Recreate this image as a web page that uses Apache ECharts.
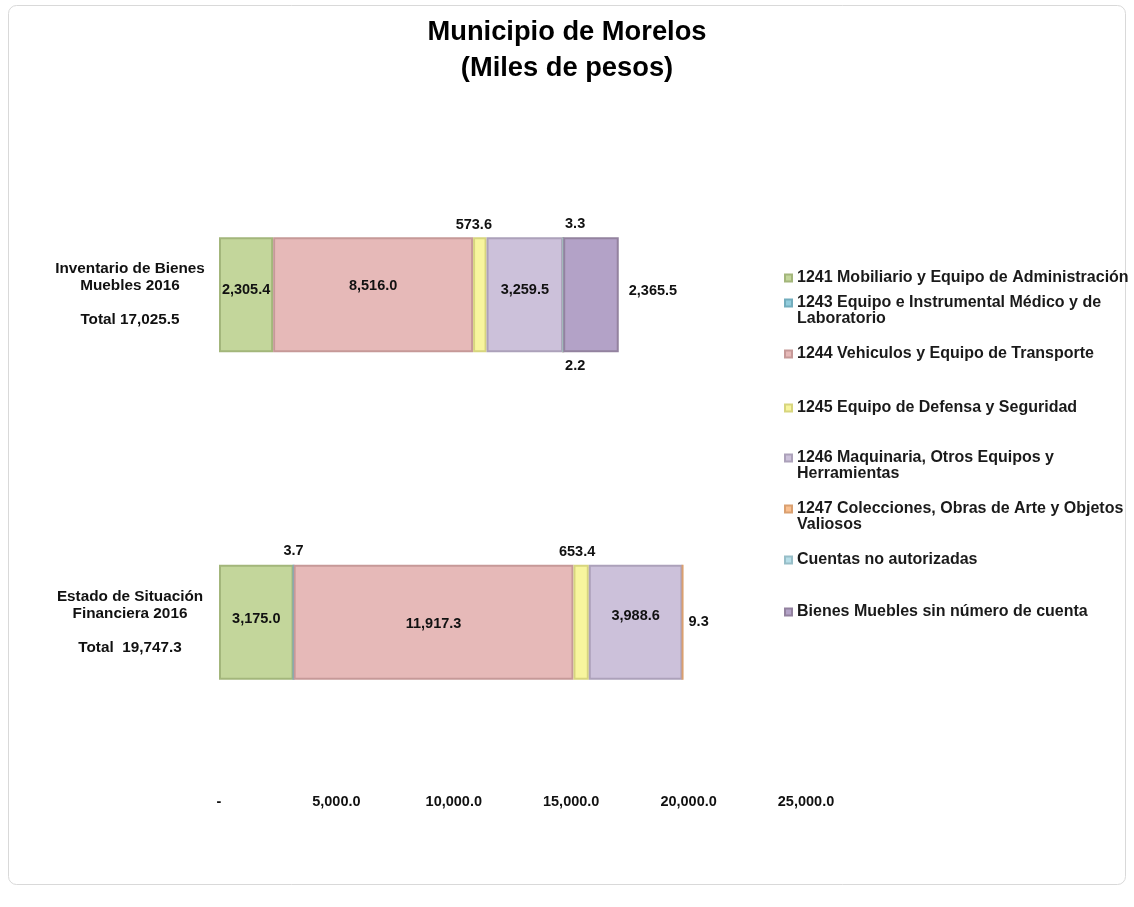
<!DOCTYPE html>
<html>
<head>
<meta charset="utf-8">
<script src="https://cdn.jsdelivr.net/npm/echarts@6/dist/echarts.min.js"></script>
<style>
html,body{margin:0;padding:0;background:#fff;}
#chart{width:1134px;height:907px;}
</style>
</head>
<body>
<div id="chart"></div>
<script>
// ---- Data ----
const categories = ['Inventario de Bienes Muebles 2016', 'Estado de Situación Financiera 2016'];
const categoryLabels = [
  'Inventario de Bienes\nMuebles 2016\n\nTotal 17,025.5',
  'Estado de Situación\nFinanciera 2016\n\nTotal  19,747.3'
];
const seriesNames = [
  '1241 Mobiliario y Equipo de Administración',
  '1243 Equipo e Instrumental Médico y de Laboratorio',
  '1244 Vehiculos y Equipo de Transporte',
  '1245 Equipo de Defensa y Seguridad',
  '1246 Maquinaria, Otros Equipos y Herramientas',
  '1247 Colecciones, Obras de Arte y Objetos Valiosos',
  'Cuentas no autorizadas',
  'Bienes Muebles sin número de cuenta'
];
const legendLabels = [
  '1241 Mobiliario y Equipo de Administración',
  '1243 Equipo e Instrumental Médico y de\nLaboratorio',
  '1244 Vehiculos y Equipo de Transporte',
  '1245 Equipo de Defensa y Seguridad',
  '1246 Maquinaria, Otros Equipos y\nHerramientas',
  '1247 Colecciones, Obras de Arte y Objetos\nValiosos',
  'Cuentas no autorizadas',
  'Bienes Muebles sin número de cuenta'
];
const s1241 = [2305.4, 3175.0];
const s1243 = [null, 3.7];
const s1244 = [8516.0, 11917.3];
const s1245 = [573.6, 653.4];
const s1246 = [3259.5, 3988.6];
const s1247 = [3.3, 9.3];
const sCuentas = [2.2, null];
const sSinCuenta = [2365.5, null];
const xTicks = [0, 5000, 10000, 15000, 20000, 25000];

// ---- Styles / placement (not data) ----
const colors = ['#c3d69b', '#93cddd', '#e6b9b8', '#f7f59e', '#ccc1da', '#fac090', '#b7dee8', '#b3a2c7'];
const borders = ['#a3b67b', '#73adbd', '#c69998', '#d7d57e', '#aca1ba', '#daa070', '#97bec8', '#93829f'];
const placement = [
  [{position:'inside', offset:[0,-5]}, {position:'inside', offset:[0,-3]}],
  [null, {position:'top'}],
  [{position:'inside', offset:[0,-9]}, {position:'inside', offset:[0,2]}],
  [{position:'top', offset:[-6,0]}, {position:'top', offset:[-4,0]}],
  [{position:'inside', offset:[0,-5]}, {position:'inside', offset:[0,-6]}],
  [{position:'top', offset:[12,0]}, {position:'right'}],
  [{position:'bottom', offset:[12,0]}, null],
  [{position:'right', distance:10, offset:[0,-4]}, null]
];
const legendY = [278, 303, 354, 408, 458, 509, 560, 612];
const legendTwoLine = [false, true, false, false, true, true, false, false];

const allData = [s1241, s1243, s1244, s1245, s1246, s1247, sCuentas, sSinCuenta];

function fmt(v) {
  return Number(v).toLocaleString('en-US', {minimumFractionDigits: 1, maximumFractionDigits: 1});
}

const FONT = '"Liberation Sans", Arial, sans-serif';

const series = allData.map((arr, si) => ({
  name: seriesNames[si],
  type: 'bar',
  stack: 'total',
  barWidth: 115,
  itemStyle: { color: colors[si], borderColor: borders[si], borderWidth: 2 },
  data: arr.map((v, ci) => {
    const p = placement[si][ci];
    if (v == null) return null;
    return {
      value: v,
      label: Object.assign({
        show: true,
        formatter: (d) => fmt(d.value),
        color: '#111',
        fontWeight: 'bold',
        fontSize: 14.5,
        fontFamily: FONT
      }, p || {show:false})
    };
  })
}));

const LEG_LH = 16;
const legends = seriesNames.map((n, i) => ({
  show: true,
  data: [n],
  orient: 'vertical',
  left: 784,
  top: legendTwoLine[i] ? legendY[i] - 1.5 * LEG_LH : legendY[i] - LEG_LH / 2,
  padding: 0,
  itemWidth: 7,
  itemHeight: 7,
  itemGap: 5,
  icon: 'rect',
  selectedMode: false,
  // a leading blank line keeps the icon level with the first text line
  formatter: () => (legendTwoLine[i] ? '\n' : '') + legendLabels[i],
  textStyle: {
    fontFamily: FONT,
    fontWeight: 'bold',
    fontSize: 16,
    color: '#1a1a1a',
    lineHeight: LEG_LH
  }
}));

const chart = echarts.init(document.getElementById('chart'), null, {renderer: 'canvas'});
chart.setOption({
  backgroundColor: '#fff',
  animation: false,
  title: {
    text: 'Municipio de Morelos\n(Miles de pesos)',
    left: 'center',
    top: 14,
    textStyle: { fontFamily: FONT, fontWeight: 'bold', fontSize: 27.3, color: '#000', lineHeight: 36 },
    padding: 0
  },
  graphic: [{
    type: 'rect',
    shape: { x: 8.5, y: 5.5, width: 1117, height: 879, r: 8 },
    style: { fill: 'none', stroke: '#d9d9d9', lineWidth: 1 },
    silent: true,
    z: -10
  }],
  legend: legends,
  grid: { left: 219, right: 328, top: 131, bottom: 121, containLabel: false },
  xAxis: {
    type: 'value',
    min: xTicks[0],
    max: xTicks[xTicks.length - 1],
    interval: xTicks[1] - xTicks[0],
    axisLine: { show: false },
    axisTick: { show: false },
    splitLine: { show: false },
    axisLabel: {
      formatter: (v) => v === 0 ? '-' : fmt(v),
      fontFamily: FONT, fontWeight: 'bold', fontSize: 14.5, color: '#111', margin: 8
    }
  },
  yAxis: {
    type: 'category',
    inverse: true,
    data: categories,
    axisLine: { show: false },
    axisTick: { show: false },
    axisLabel: {
      formatter: (v, i) => categoryLabels[i],
      align: 'center',
      margin: 89,
      fontFamily: FONT, fontWeight: 'bold', fontSize: 15.3, color: '#111', lineHeight: 17
    }
  },
  series: series
});
</script>
</body>
</html>
